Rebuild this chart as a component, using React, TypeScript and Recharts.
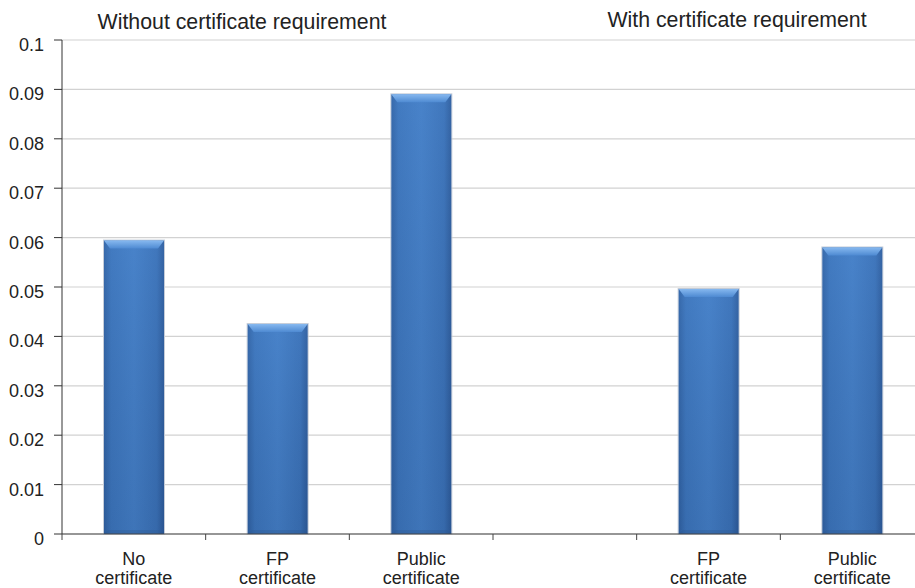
import { BarChart, Bar, XAxis, YAxis, CartesianGrid } from 'recharts';

// Bar categories (the fourth slot is an empty spacer between the two groups)
const categories = ['No certificate', 'FP certificate', 'Public certificate', '', 'FP certificate', 'Public certificate'];
const values = [0.0594, 0.0425, 0.089, null, 0.0496, 0.058];
const yTicks = [0, 0.01, 0.02, 0.03, 0.04, 0.05, 0.06, 0.07, 0.08, 0.09, 0.1];
const groupTitles = ['Without certificate requirement', 'With certificate requirement'];

const CHART_W = 930;
const CHART_H = 588;
const AXIS_W = 62;
const RIGHT = 6;
const BAND = (CHART_W - AXIS_W - RIGHT) / categories.length;
const FONT = '"Liberation Sans", Arial, sans-serif';

const data = categories.map((name, i) => ({ id: i, name, value: values[i] }));

/**
 * Category label on two lines, plus a tick mark on the left category boundary.
 */
const XTick = ({ x, y, payload }: any) => {
  const label = categories[payload.value] || '';
  const words = label.split(' ');
  return (
    <g>
      <line x1={x - BAND / 2} x2={x - BAND / 2} y1={y} y2={y + 6} stroke="#444" />
      {label && (
        <text textAnchor="middle" fill="#222" fontSize={18} fontFamily={FONT}>
          <tspan x={x} y={y + 31}>{words[0]}</tspan>
          <tspan x={x} y={y + 50}>{words.slice(1).join(' ')}</tspan>
        </text>
      )}
    </g>
  );
};

const YTick = ({ x, y, payload }: any) => (
  <text x={x} y={y + 11} textAnchor="end" fill="#222" fontSize={18} fontFamily={FONT}>
    {String(payload.value)}
  </text>
);

// Bevelled blue bar, like the office-style chart
const BevelBar = ({ x, y, width, height }: any) => {
  if (!height || height <= 0) return null;
  const b = 8;
  return (
    <g>
      <rect x={x - 0.5} y={y - 0.5} width={width + 1} height={height + 0.5} fill="none" stroke="#c5ccd8" />
      <rect x={x} y={y} width={width} height={height} fill="url(#barBody)" />
      <rect x={x} y={y} width={width} height={height} fill="url(#barShade)" />
      <polygon
        points={`${x},${y} ${x + width},${y} ${x + width - 6},${y + b} ${x + 6},${y + b}`}
        fill="url(#barTop)"
      />
      <polygon
        points={`${x},${y + height} ${x + width},${y + height} ${x + width - 4},${y + height - 4} ${x + 4},${y + height - 4}`}
        fill="#2a5590"
        opacity={0.3}
      />
    </g>
  );
};

export default function App() {
  return (
    <div
      style={{
        position: 'absolute',
        left: 0,
        top: 0,
        width: 915,
        height: 588,
        overflow: 'hidden',
        background: '#fff',
        fontFamily: FONT,
      }}
    >
      <svg width={0} height={0} style={{ position: 'absolute' }}>
        <defs>
          <linearGradient id="barBody" x1="0" y1="0" x2="1" y2="0">
            <stop offset="0%" stopColor="#2f5f9f" />
            <stop offset="12%" stopColor="#3c74ba" />
            <stop offset="50%" stopColor="#447ec5" />
            <stop offset="88%" stopColor="#3a70b5" />
            <stop offset="100%" stopColor="#2c5896" />
          </linearGradient>
          <linearGradient id="barShade" x1="0" y1="0" x2="0" y2="1">
            <stop offset="0%" stopColor="#5a95dc" stopOpacity={0.2} />
            <stop offset="100%" stopColor="#1d3f70" stopOpacity={0.15} />
          </linearGradient>
          <linearGradient id="barTop" x1="0" y1="0" x2="0" y2="1">
            <stop offset="0%" stopColor="#86b8ef" />
            <stop offset="100%" stopColor="#4e8ad2" />
          </linearGradient>
        </defs>
      </svg>
      <BarChart
        width={CHART_W}
        height={CHART_H}
        data={data}
        margin={{ top: 40, right: RIGHT, left: 0, bottom: 0 }}
        barCategoryGap={0}
      >
        <CartesianGrid vertical={false} stroke="#d2d2d2" strokeWidth={1.2} />
        <XAxis
          dataKey="id"
          type="category"
          height={54}
          axisLine={{ stroke: '#444' }}
          tickLine={false}
          tickSize={0}
          tickMargin={0}
          interval={0}
          tick={<XTick />}
        />
        <YAxis
          width={AXIS_W}
          domain={[0, 0.1]}
          ticks={yTicks}
          interval={0}
          axisLine={{ stroke: '#333' }}
          tickLine={{ stroke: '#333' }}
          tickSize={8}
          tickMargin={10}
          tick={<YTick />}
        />
        <Bar dataKey="value" barSize={60} shape={<BevelBar />} isAnimationActive={false} />
      </BarChart>
      <svg
        width={915}
        height={588}
        style={{ position: 'absolute', left: 0, top: 0, pointerEvents: 'none' }}
      >
        <text x={242} y={29} textAnchor="middle" fontSize={21.3} fill="#222" fontFamily={FONT}>
          {groupTitles[0]}
        </text>
        <text x={737} y={27} textAnchor="middle" fontSize={21.3} fill="#222" fontFamily={FONT}>
          {groupTitles[1]}
        </text>
      </svg>
    </div>
  );
}
